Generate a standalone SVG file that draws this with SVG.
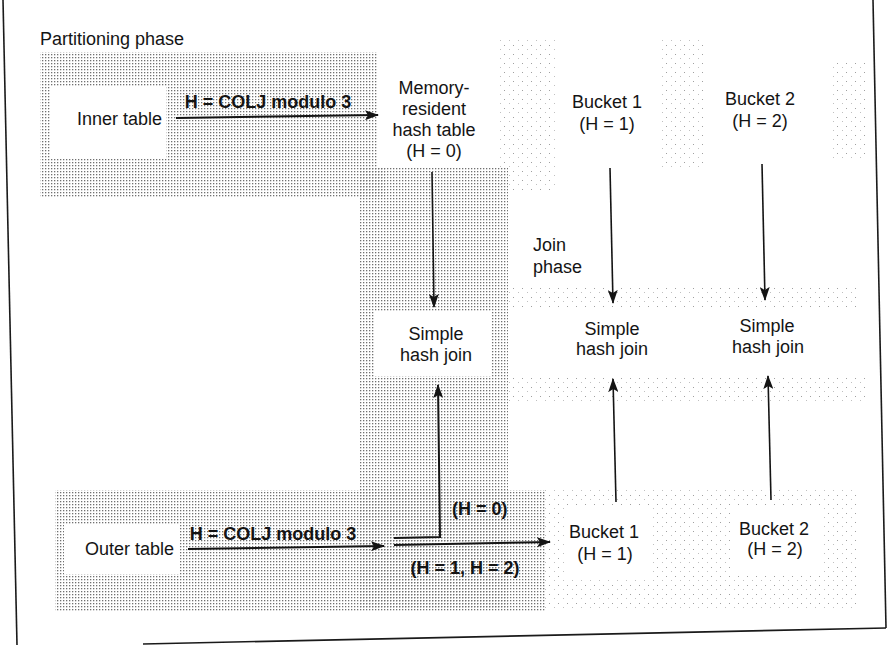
<svg xmlns="http://www.w3.org/2000/svg" width="889" height="645" viewBox="0 0 889 645">
<defs>
<style>
text{font-family:"Liberation Sans",Arial,Helvetica,sans-serif;font-size:18px;fill:#141414}
.c{text-anchor:middle}
.b{font-weight:bold;font-size:18px}
.ln{fill:none;stroke:#141414;stroke-width:2}
.th{fill:none;stroke:#141414;stroke-width:1.6}
.frame{fill:none;stroke:#1a1a1a;stroke-width:1.6}
.white{fill:#ffffff}
</style>
<pattern id="ht" width="3" height="3" patternUnits="userSpaceOnUse">
<rect x="0" y="0" width="1.3" height="1.3" fill="#707070"/>
</pattern>
<pattern id="lt" width="9" height="9" patternUnits="userSpaceOnUse">
<rect x="0" y="0" width="1" height="1" fill="#a0a0a0"/>
<rect x="5" y="4" width="1" height="1" fill="#c0c0c0"/>
</pattern>
<marker id="ah" viewBox="0 0 14 10" refX="13" refY="5" markerWidth="14" markerHeight="10" markerUnits="userSpaceOnUse" orient="auto">
<path d="M0,0 L14,5 L0,10 L3,5 Z" fill="#141414"/>
</marker>
</defs>
<rect width="889" height="645" fill="#ffffff"/>

<g id="shading">
<rect x="498" y="40" width="60" height="150" fill="url(#lt)"/>
<rect x="660" y="40" width="45" height="130" fill="url(#lt)"/>
<rect x="830" y="60" width="35" height="100" fill="url(#lt)"/>
<rect x="505" y="285" width="355" height="25" fill="url(#lt)"/>
<rect x="505" y="375" width="360" height="30" fill="url(#lt)"/>
<rect x="540" y="490" width="320" height="120" fill="url(#lt)"/>
<rect x="40" y="52" width="345" height="145" fill="url(#ht)"/>
<rect x="360" y="168" width="148" height="440" fill="url(#ht)"/>
<rect x="55" y="490" width="490" height="122" fill="url(#ht)"/>
<rect class="white" x="50" y="86" width="116" height="72"/>
<rect class="white" x="378" y="40" width="112" height="128"/>
<rect class="white" x="374" y="312" width="118" height="64"/>
<rect class="white" x="64" y="524" width="116" height="50"/>
<rect class="white" x="565" y="505" width="85" height="75"/>
<rect class="white" x="730" y="505" width="90" height="70"/>
</g>

<g id="frame">
<line class="frame" x1="3" y1="0" x2="17" y2="645"/>
<line class="frame" x1="873" y1="0" x2="886" y2="628"/>
<line class="frame" x1="143" y1="644" x2="886" y2="628"/>
</g>

<text x="40" y="45">Partitioning phase</text>
<text x="533" y="251">Join</text>
<text x="533" y="273">phase</text>

<g id="inner-table">
<text x="77" y="125">Inner table</text>
</g>
<g id="memory-hash-table">
<text class="c" x="434" y="94">Memory-</text>
<text class="c" x="434" y="115">resident</text>
<text class="c" x="434" y="136">hash table</text>
<text class="c" x="434" y="157">(H = 0)</text>
</g>
<g id="bucket1-top">
<text class="c" x="607" y="108">Bucket 1</text>
<text class="c" x="607" y="130">(H = 1)</text>
</g>
<g id="bucket2-top">
<text class="c" x="760" y="105">Bucket 2</text>
<text class="c" x="760" y="127">(H = 2)</text>
</g>
<g id="shj0">
<text class="c" x="436" y="340">Simple</text>
<text class="c" x="436" y="361">hash join</text>
</g>
<g id="shj1">
<text class="c" x="612" y="335">Simple</text>
<text class="c" x="612" y="355">hash join</text>
</g>
<g id="shj2">
<text class="c" x="767" y="332">Simple</text>
<text class="c" x="768" y="353">hash join</text>
</g>
<g id="outer-table">
<text x="85" y="555">Outer table</text>
</g>
<g id="bucket1-bottom">
<text class="c" x="604" y="538">Bucket 1</text>
<text class="c" x="605" y="560">(H = 1)</text>
</g>
<g id="bucket2-bottom">
<text class="c" x="774" y="535">Bucket 2</text>
<text class="c" x="775" y="555">(H = 2)</text>
</g>

<g id="connectors">
<line class="ln" x1="176" y1="118" x2="378" y2="115" marker-end="url(#ah)"/>
<text class="b c" x="268" y="108">H = COLJ modulo 3</text>
<line class="th" x1="432" y1="172" x2="434" y2="307" marker-end="url(#ah)"/>
<line class="th" x1="610" y1="168" x2="613" y2="303" marker-end="url(#ah)"/>
<line class="th" x1="762" y1="164" x2="765" y2="300" marker-end="url(#ah)"/>
<line class="ln" x1="188" y1="549" x2="384" y2="546" marker-end="url(#ah)"/>
<text class="b c" x="273" y="540">H = COLJ modulo 3</text>
<polyline class="ln" points="394,538 440,537 438,385" marker-end="url(#ah)"/>
<line class="ln" x1="394" y1="545" x2="550" y2="542" marker-end="url(#ah)"/>
<text class="b" x="452" y="515">(H = 0)</text>
<text class="b c" x="465" y="574">(H = 1, H = 2)</text>
<line class="th" x1="616" y1="502" x2="613" y2="379" marker-end="url(#ah)"/>
<line class="th" x1="771" y1="500" x2="768" y2="376" marker-end="url(#ah)"/>
</g>
</svg>
